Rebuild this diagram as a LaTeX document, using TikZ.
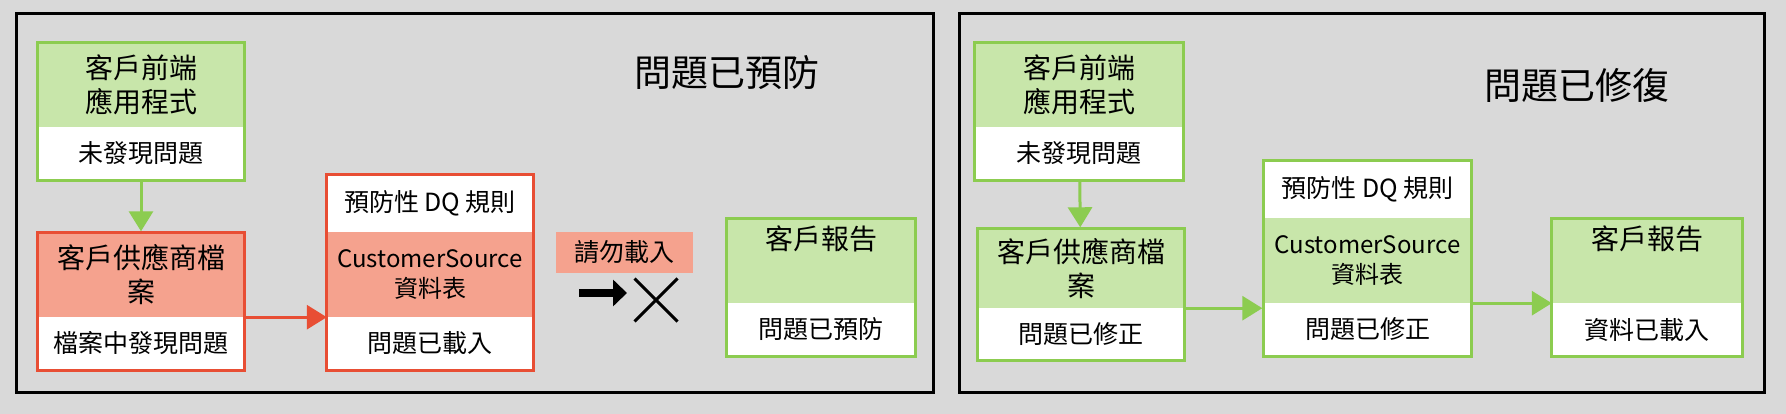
\documentclass[tikz,border=0pt]{standalone}
\usepackage{fontspec}
\setmainfont{Noto Sans CJK TC}
\usetikzlibrary{arrows.meta,fit,shapes.misc}
\definecolor{bggray}{RGB}{217,217,217}
\definecolor{mygreen}{RGB}{140,204,80}
\definecolor{lightgreen}{RGB}{200,230,170}
\definecolor{myred}{RGB}{232,78,52}
\definecolor{lightred}{RGB}{245,162,142}

\begin{document}
\begin{tikzpicture}[x=1pt,y=-1pt,
  part/.style={inner sep=0pt,align=center,font=\fontsize{25}{30}\selectfont},
  hdr/.style={part,minimum height=84pt,font=\fontsize{28}{34}\selectfont},
  body/.style={part,fill=white,minimum height=53pt},
  outline/.style={draw,line width=3pt,inner sep=0pt,fit=#1},
  gbox/.style={fill=lightgreen},
  rbox/.style={fill=lightred},
  garrow/.style={draw=mygreen,line width=3pt,-{Triangle[length=20pt,width=24pt]}},
  rarrow/.style={draw=myred,line width=3pt,-{Triangle[length=20pt,width=24pt]}},
  title/.style={font=\fontsize{37}{42}\selectfont}]

  \useasboundingbox[fill=bggray] (0,0) rectangle (1786,414);
  \draw[line width=3pt] (16,14) rectangle (933,392);
  \draw[line width=3pt] (959,14) rectangle (1764,392);

  % left panel
  \node[title] (ltitle) at (727,73) {問題已預防};

  \node[hdr,gbox,minimum width=206pt] (lAh) at (141,85) {客戶前端\\應用程式};
  \node[body,minimum width=206pt] (lAb) at (141,153.5) {未發現問題};
  \node[outline={(lAh)(lAb)},draw=mygreen] (lA) {};

  \node[hdr,rbox,minimum width=206pt] (lBh) at (141,275) {客戶供應商檔\\案};
  \node[body,minimum width=206pt] (lBb) at (141,343.5) {檔案中發現問題};
  \node[outline={(lBh)(lBb)},draw=myred] (lB) {};

  \node[body,minimum width=206pt,minimum height=57pt] (lCt) at (430,203.5) {預防性 DQ 規則};
  \node[hdr,rbox,minimum width=206pt,minimum height=85pt,font=\fontsize{24}{30}\selectfont] (lCm) at (430,274.5) {CustomerSource\\資料表};
  \node[body,minimum width=206pt] (lCb) at (430,343.5) {問題已載入};
  \node[outline={(lCt)(lCb)},draw=myred] (lC) {};

  \node[part,rbox,minimum width=137pt,minimum height=41pt] (noload) at (624.5,252.5) {請勿載入};
  \coordinate (stopstart) at (579,293);
  \coordinate (stopend) at (627,293);
  \node[cross out,draw,line width=3pt,minimum size=40pt] (stop) at (656,300) {};

  \node[hdr,gbox,minimum width=188pt] (lDh) at (821,261) {客戶報告\\[12pt]};
  \node[body,minimum width=188pt] (lDb) at (821,329.5) {問題已預防};
  \node[outline={(lDh)(lDb)},draw=mygreen] (lD) {};

  \draw[garrow] (lA) -- (lB);
  \draw[rarrow] (lBh.south east) -- (lCm.south west);
  \draw[line width=8pt,-{Triangle[length=14pt,width=26pt]}] (stopstart) -- (stopend);

  % right panel
  \node[title] (rtitle) at (1577,85) {問題已修復};

  \node[hdr,gbox,minimum width=208pt] (rAh) at (1079,85) {客戶前端\\應用程式};
  \node[body,minimum width=208pt] (rAb) at (1079,153.5) {未發現問題};
  \node[outline={(rAh)(rAb)},draw=mygreen] (rA) {};

  \node[hdr,gbox,minimum width=207pt,minimum height=79pt] (rBh) at (1081,268.5) {客戶供應商檔\\案};
  \node[body,minimum width=207pt,minimum height=52pt] (rBb) at (1081,334) {問題已修正};
  \node[outline={(rBh)(rBb)},draw=mygreen] (rB) {};

  \node[body,minimum width=207pt,minimum height=57pt] (rCt) at (1367.5,189.5) {預防性 DQ 規則};
  \node[hdr,gbox,minimum width=207pt,minimum height=85pt,font=\fontsize{24}{30}\selectfont] (rCm) at (1367.5,260.5) {CustomerSource\\資料表};
  \node[body,minimum width=207pt] (rCb) at (1367.5,329.5) {問題已修正};
  \node[outline={(rCt)(rCb)},draw=mygreen] (rC) {};

  \node[hdr,gbox,minimum width=190pt] (rDh) at (1647,261) {客戶報告\\[12pt]};
  \node[body,minimum width=190pt] (rDb) at (1647,329.5) {資料已載入};
  \node[outline={(rDh)(rDb)},draw=mygreen] (rD) {};

  \draw[garrow] (rA) -- (rB);
  \draw[garrow] (rBh.south east) -- (rBh.south east -| rC.west);
  \draw[garrow] (rCm.south east) -- (rDh.south west);
\end{tikzpicture}
\end{document}
